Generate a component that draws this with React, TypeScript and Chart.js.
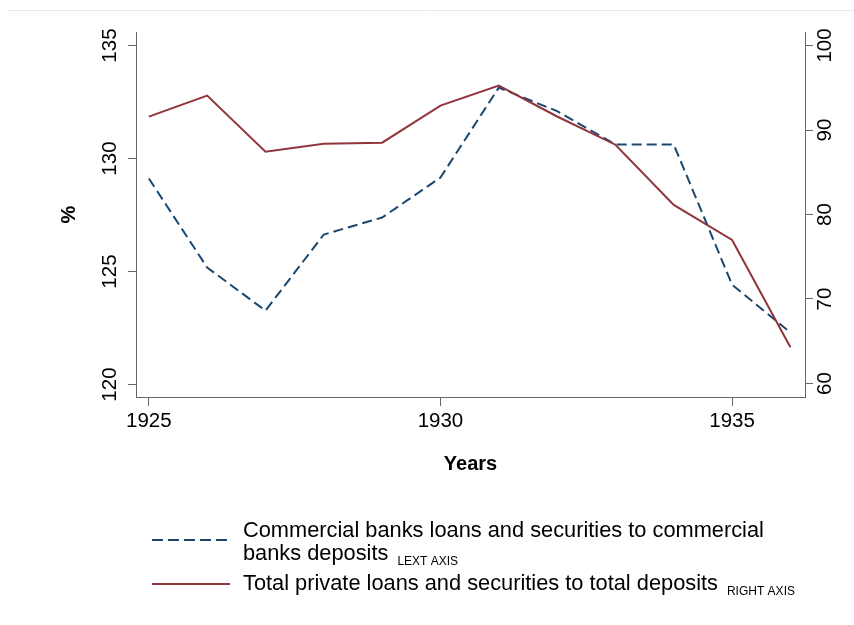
import React, { useEffect, useRef } from "react";
import { Chart, registerables } from "chart.js";

Chart.register(...registerables);

// Years on the horizontal axis
const years = [1925, 1926, 1927, 1928, 1929, 1930, 1931, 1932, 1933, 1934, 1935, 1936];

// Commercial banks loans and securities / commercial banks deposits (left axis, %)
const commercialRatio = [129.12, 125.18, 123.27, 126.64, 127.39, 129.16, 133.14, 132.1, 130.62, 130.62, 124.42, 122.3];

// Total private loans and securities / total deposits (right axis, %)
const totalRatio = [91.58, 94.07, 87.43, 88.37, 88.5, 92.88, 95.26, 91.6, 88.26, 81.14, 76.99, 64.3];

const xTicks = [1925, 1930, 1935];
const leftTicks = [120, 125, 130, 135];
const rightTicks = [60, 70, 80, 90, 100];

const legendLine1 = "Commercial banks loans and securities to commercial";
const legendLine2 = "banks deposits";
const legendSub1 = "LEXT AXIS";
const legendLine3 = "Total private loans and securities to total deposits";
const legendSub3 = "RIGHT AXIS";

const BLUE = "#1a476f";
const RED = "#90353b";
const AXIS = "#666666";
const FONT = '"Liberation Sans", Arial, sans-serif';

const textPlugin = {
  id: "stataText",
  beforeDraw(chart: any) {
    const ctx = chart.ctx;
    ctx.save();
    ctx.fillStyle = "#ffffff";
    ctx.fillRect(0, 0, chart.width, chart.height);
    ctx.strokeStyle = "#e9e9e9";
    ctx.lineWidth = 1;
    ctx.beginPath();
    ctx.moveTo(7, 10.5);
    ctx.lineTo(chart.width, 10.5);
    ctx.stroke();
    ctx.restore();
  },
  afterDraw(chart: any) {
    const ctx = chart.ctx;
    const area = chart.chartArea;
    const yL = chart.scales.yL;
    const yR = chart.scales.yR;
    ctx.save();
    ctx.fillStyle = "#000";
    ctx.textAlign = "center";
    ctx.textBaseline = "middle";

    // rotated tick labels on both vertical axes
    ctx.font = `20.5px ${FONT}`;
    leftTicks.forEach((v) => {
      ctx.save();
      ctx.translate(area.left - 26, yL.getPixelForValue(v));
      ctx.rotate(-Math.PI / 2);
      ctx.fillText(String(v), 0, 0);
      ctx.restore();
    });
    rightTicks.forEach((v) => {
      ctx.save();
      ctx.translate(area.right + 20, yR.getPixelForValue(v));
      ctx.rotate(-Math.PI / 2);
      ctx.fillText(String(v), 0, 0);
      ctx.restore();
    });

    // axis titles
    ctx.font = `bold 20px ${FONT}`;
    ctx.save();
    ctx.translate(69, (area.top + area.bottom) / 2);
    ctx.rotate(-Math.PI / 2);
    ctx.fillText("%", 0, 0);
    ctx.restore();
    ctx.fillText("Years", (area.left + area.right) / 2, 464);

    // legend
    const keyX0 = 152;
    const keyX1 = 230;
    const textX = 243;
    ctx.lineWidth = 2;
    ctx.strokeStyle = BLUE;
    ctx.setLineDash([11, 5]);
    ctx.beginPath();
    ctx.moveTo(keyX0, 540);
    ctx.lineTo(keyX1, 540);
    ctx.stroke();
    ctx.setLineDash([]);
    ctx.strokeStyle = RED;
    ctx.beginPath();
    ctx.moveTo(keyX0, 584);
    ctx.lineTo(keyX1, 584);
    ctx.stroke();

    ctx.textAlign = "left";
    ctx.textBaseline = "alphabetic";
    ctx.font = `21.8px ${FONT}`;
    ctx.fillText(legendLine1, textX, 537);
    ctx.fillText(legendLine2, textX, 560);
    const w2 = ctx.measureText(legendLine2).width;
    ctx.fillText(legendLine3, textX, 590);
    const w3 = ctx.measureText(legendLine3).width;
    ctx.font = `12px ${FONT}`;
    ctx.fillText(legendSub1, textX + w2 + 9, 565);
    ctx.fillText(legendSub3, textX + w3 + 9, 595);
    ctx.restore();
  },
};

export default function App() {
  const canvasRef = useRef<HTMLCanvasElement | null>(null);

  useEffect(() => {
    const canvas = canvasRef.current;
    if (!canvas) return;
    const grid = {
      display: true,
      drawOnChartArea: false,
      drawTicks: true,
      color: AXIS,
      lineWidth: 1,
    };
    const chart = new Chart(canvas, {
      type: "line",
      data: {
        datasets: [
          {
            label: legendLine3,
            data: years.map((x, i) => ({ x, y: totalRatio[i] })),
            yAxisID: "yR",
            xAxisID: "x",
            borderColor: RED,
            borderWidth: 2,
            pointRadius: 0,
            tension: 0,
            fill: false,
            order: 0,
          },
          {
            label: legendLine1 + " " + legendLine2,
            data: years.map((x, i) => ({ x, y: commercialRatio[i] })),
            yAxisID: "yL",
            xAxisID: "x",
            borderColor: BLUE,
            borderWidth: 2,
            borderDash: [10, 5],
            pointRadius: 0,
            tension: 0,
            fill: false,
            order: 1,
          },
        ],
      },
      options: {
        responsive: false,
        animation: false,
        devicePixelRatio: 1,
        layout: { padding: { top: 32, left: 0, right: 0, bottom: 0 } },
        plugins: {
          legend: { display: false },
          tooltip: { enabled: false },
        },
        scales: {
          x: {
            type: "linear",
            position: "bottom",
            min: 1924.78,
            max: 1936.25,
            grid: { ...grid, tickLength: 9 },
            border: { display: true, color: AXIS, width: 1 },
            ticks: {
              color: "#000",
              font: { family: FONT, size: 20.5 },
              padding: 3,
              maxRotation: 0,
              callback: (v: any) => String(v),
            },
            afterBuildTicks: (scale: any) => {
              scale.ticks = xTicks.map((value) => ({ value }));
            },
            afterFit: (scale: any) => {
              scale.height = 228;
            },
          },
          yL: {
            type: "linear",
            position: "left",
            min: 119.45,
            max: 135.6,
            grid: { ...grid, tickLength: 8 },
            border: { display: true, color: AXIS, width: 1 },
            ticks: { color: "rgba(0,0,0,0)" },
            afterBuildTicks: (scale: any) => {
              scale.ticks = leftTicks.map((value) => ({ value }));
            },
            afterFit: (scale: any) => {
              scale.width = 136;
            },
          },
          yR: {
            type: "linear",
            position: "right",
            min: 58.4,
            max: 101.6,
            grid: { ...grid, tickLength: 8 },
            border: { display: true, color: AXIS, width: 1 },
            ticks: { color: "rgba(0,0,0,0)" },
            afterBuildTicks: (scale: any) => {
              scale.ticks = rightTicks.map((value) => ({ value }));
            },
            afterFit: (scale: any) => {
              scale.width = 49;
            },
          },
        },
      },
      plugins: [textPlugin],
    });
    return () => chart.destroy();
  }, []);

  return (
    <div style={{ position: "absolute", left: 0, top: 0, width: 854, height: 625, background: "#fff" }}>
      <canvas ref={canvasRef} width={854} height={625} style={{ display: "block", width: 854, height: 625 }} />
    </div>
  );
}
